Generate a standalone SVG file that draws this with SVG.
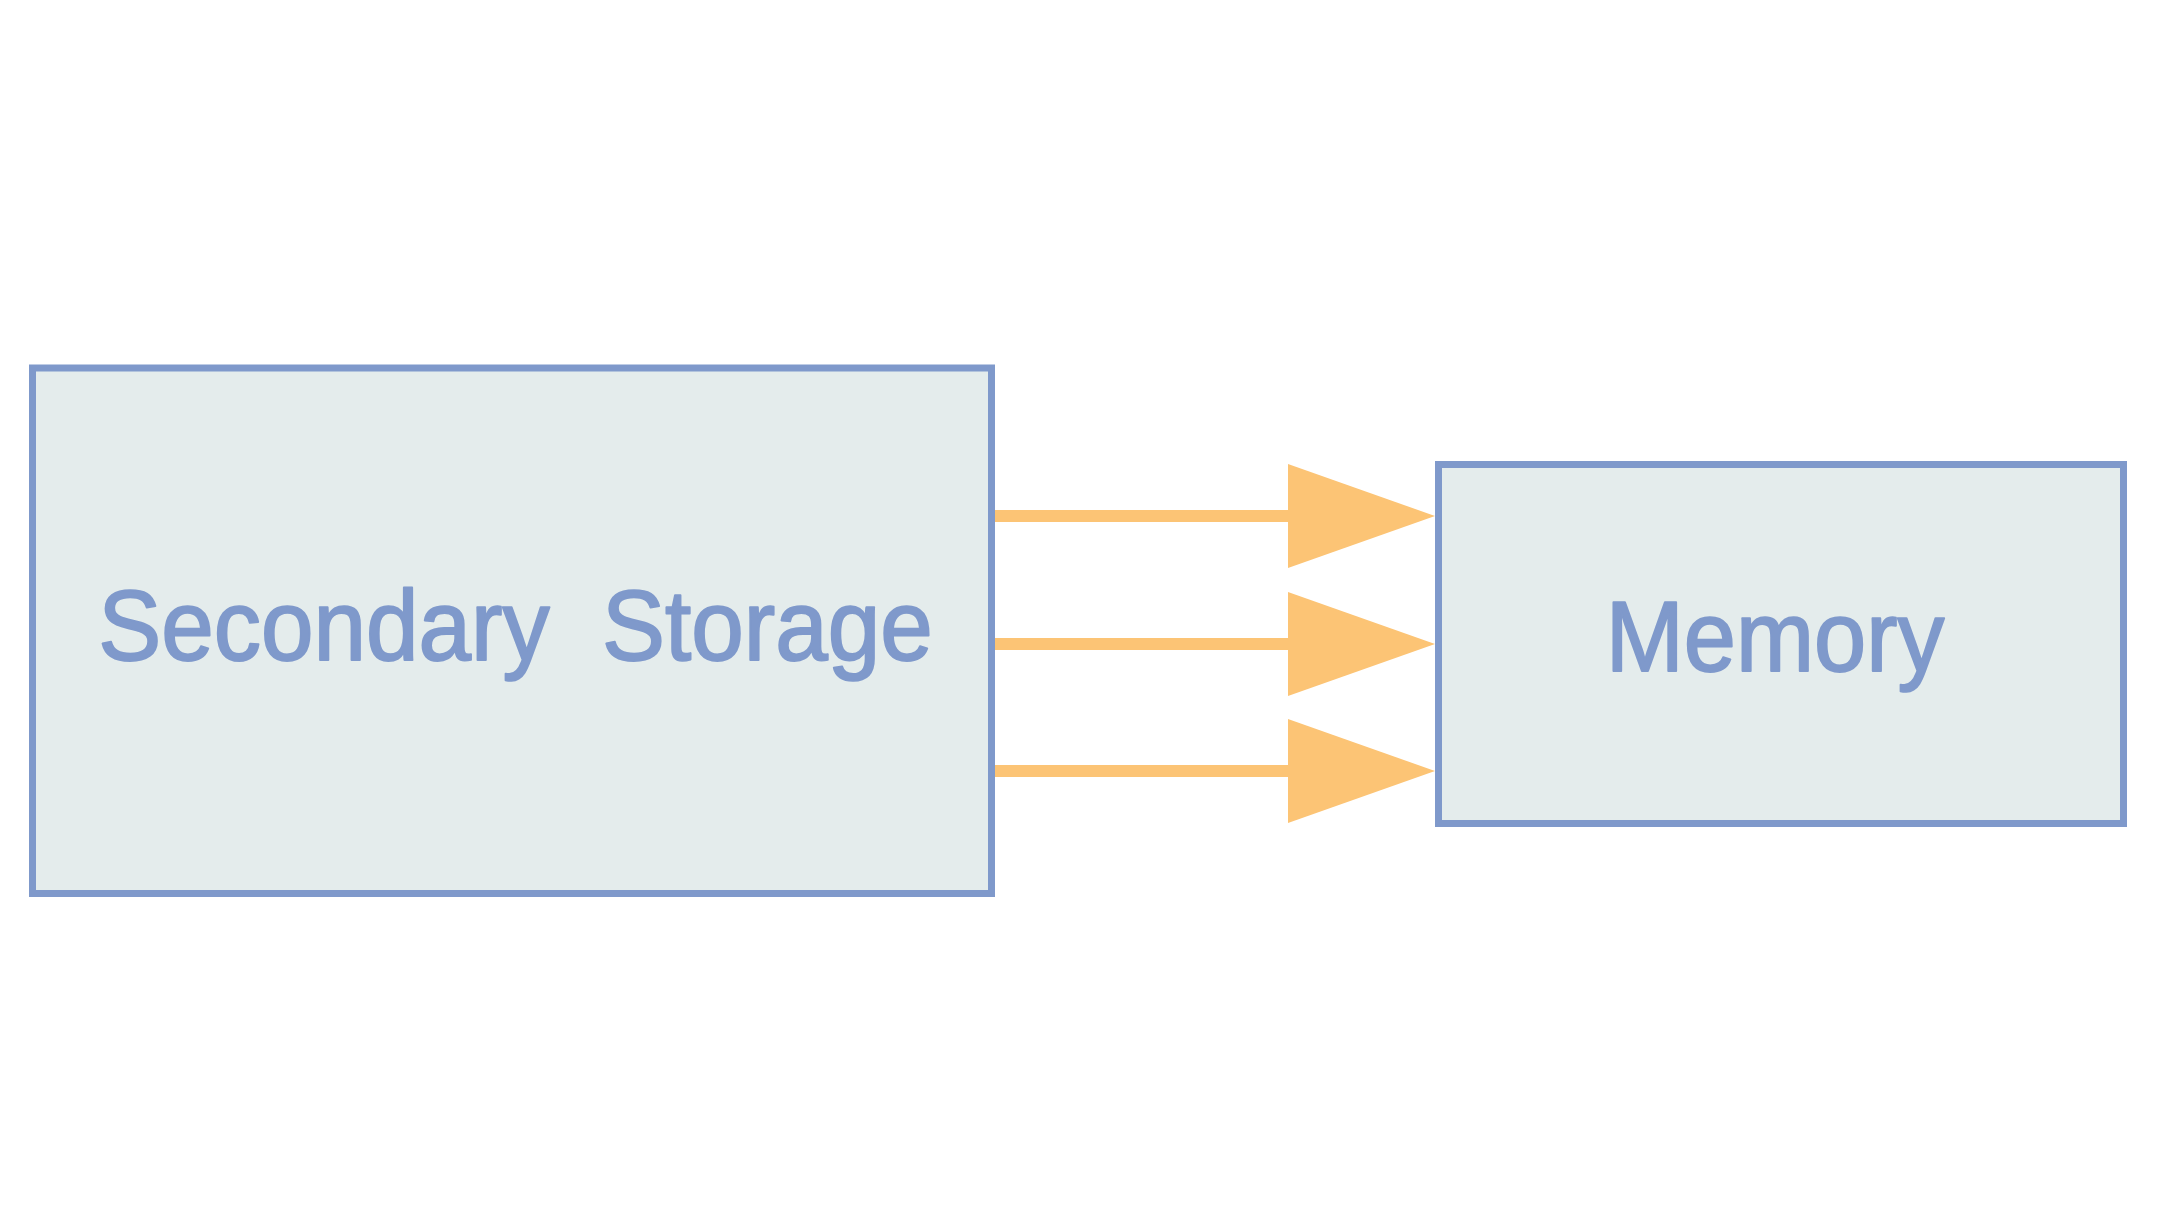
<svg xmlns="http://www.w3.org/2000/svg" width="2167" height="1217" viewBox="0 0 2167 1217">
<defs>
<style>
.box{fill:#e4ecec;stroke:#7f99cb;stroke-width:7}
.lbl{font-family:"Liberation Sans",Arial,sans-serif;font-size:100px;fill:#7f99cb;stroke:#7f99cb;stroke-width:2;stroke-linejoin:round;text-rendering:geometricPrecision;font-kerning:none}
.conn{stroke:#fcc475;stroke-width:12;fill:none}
</style>
<marker id="ah" markerUnits="userSpaceOnUse" markerWidth="147" markerHeight="104" refX="0" refY="52" orient="auto" viewBox="0 0 147 104">
<path d="M0,0 L147,52 L0,104 Z" fill="#fcc475"/>
</marker>
</defs>
<rect width="2167" height="1217" fill="#ffffff"/>
<g id="secondary-storage">
<rect class="box" x="32.5" y="368" width="959" height="525.5"/>
<text class="lbl" transform="scale(0.944,1)" x="104.2" y="660" xml:space="preserve">Secondary  Storage</text>
</g>
<g id="memory">
<rect class="box" x="1438.5" y="464.5" width="685" height="359"/>
<text class="lbl" transform="scale(0.9375,1)" x="1712.8" y="670.7">Memory</text>
</g>
<g id="connectors">
<line class="conn" x1="995" y1="516" x2="1288" y2="516" marker-end="url(#ah)"/>
<line class="conn" x1="995" y1="644" x2="1288" y2="644" marker-end="url(#ah)"/>
<line class="conn" x1="995" y1="771" x2="1288" y2="771" marker-end="url(#ah)"/>
</g>
</svg>
